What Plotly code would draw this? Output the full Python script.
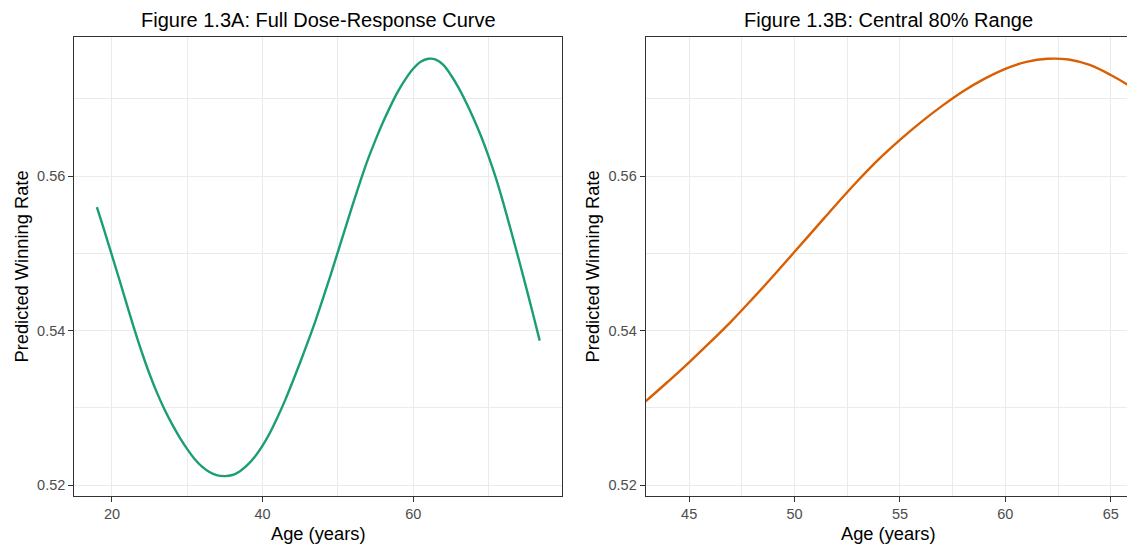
import plotly.graph_objects as go

# Estimated values
age = [18, 19, 20, 21, 22, 23, 24, 25, 26, 27, 28, 29, 30, 31, 32, 33, 34, 35, 36, 37,
       38, 39, 40, 41, 42, 43, 44, 45, 46, 47, 48, 49, 50, 51, 52, 53, 54, 55, 56, 57,
       58, 59, 60, 61, 62, 63, 64, 65, 66, 67, 68, 69, 70, 71, 72, 73, 74, 75, 76, 76.8]
win_rate = [0.5560, 0.5529, 0.54975, 0.54655, 0.5433, 0.5401, 0.5371, 0.53435, 0.5319, 0.52975,
            0.52785, 0.52615, 0.52465, 0.52335, 0.52235, 0.52165, 0.52125, 0.52115, 0.5213, 0.5218,
            0.5226, 0.5237, 0.5251, 0.5268, 0.5288, 0.5310, 0.5334, 0.5359, 0.5385, 0.5412,
            0.5441, 0.5471, 0.5502, 0.5533, 0.5564, 0.5594, 0.5622, 0.5647, 0.5670, 0.5691,
            0.5710, 0.5726, 0.5739, 0.5748, 0.5752, 0.5751, 0.5744, 0.5731, 0.5715, 0.5696,
            0.5675, 0.5652, 0.5626, 0.5597, 0.5564, 0.5529, 0.5493, 0.5456, 0.5418, 0.5387]

titles = ["Figure 1.3A: Full Dose-Response Curve", "Figure 1.3B: Central 80% Range"]
x_title = "Age (years)"
y_title = "Predicted Winning Rate"
colors = ["#1B9E77", "#D95F02"]

W, H = 1127, 546
FONT = "Arial, Liberation Sans, sans-serif"

fig = go.Figure()
fig.add_trace(go.Scatter(x=age, y=win_rate, mode="lines", line=dict(color=colors[0], width=2.4, shape="spline"),
                         xaxis="x", yaxis="y", showlegend=False))
fig.add_trace(go.Scatter(x=age, y=win_rate, mode="lines", line=dict(color=colors[1], width=2.4, shape="spline"),
                         xaxis="x2", yaxis="y2", showlegend=False))

def px_x(p):
    return p / W

def px_y(p):
    return (H - p) / H

ydom = [px_y(495.7), px_y(37.3)]
x1dom = [px_x(74.3), px_x(562.3)]
x2dom = [px_x(645.7), 1.0]

grid = "#EBEBEB"
axis_common = dict(showgrid=True, gridcolor=grid, gridwidth=1.2, zeroline=False,
                   showline=True, linecolor="#333333", linewidth=1.1,
                   ticks="outside", ticklen=5, tickcolor="#333333", tickwidth=1.1,
                   tickfont=dict(family=FONT, size=14.5, color="#4D4D4D"))

fig.update_layout(
    width=W, height=H, margin=dict(l=0, r=0, t=0, b=0),
    paper_bgcolor="white", plot_bgcolor="white",
    xaxis=dict(domain=x1dom, range=[15.0, 79.8], tick0=0, dtick=20, mirror=True, anchor="y",
               minor=dict(dtick=10, showgrid=True, gridcolor=grid, gridwidth=0.7), **axis_common),
    yaxis=dict(domain=ydom, range=[0.51862, 0.57798], tick0=0.52, dtick=0.02, tickformat=".2f",
               mirror=True, anchor="x",
               minor=dict(dtick=0.01, showgrid=True, gridcolor=grid, gridwidth=0.7), **axis_common),
    xaxis2=dict(domain=x2dom, range=[42.94, 65.77], tick0=0, dtick=5, mirror=True, anchor="y2",
                minor=dict(dtick=2.5, showgrid=True, gridcolor=grid, gridwidth=0.7), **axis_common),
    yaxis2=dict(domain=ydom, range=[0.51862, 0.57798], tick0=0.52, dtick=0.02, tickformat=".2f",
                mirror=False, anchor="x2",
                minor=dict(dtick=0.01, showgrid=True, gridcolor=grid, gridwidth=0.7), **axis_common),
)

ann = []
centers = [(74.3 + 562.3) / 2, 888.0]
ytitle_x = [21.0, 592.0]
for i in range(2):
    ann.append(dict(text=titles[i], x=px_x(centers[i]), y=px_y(20), xref="paper", yref="paper",
                    xanchor="center", yanchor="middle", showarrow=False,
                    font=dict(family=FONT, size=20, color="black")))
    ann.append(dict(text=x_title, x=px_x(centers[i]), y=px_y(533), xref="paper", yref="paper",
                    xanchor="center", yanchor="middle", showarrow=False,
                    font=dict(family=FONT, size=18.3, color="black")))
    ann.append(dict(text=y_title, x=px_x(ytitle_x[i]), y=px_y(266.5), xref="paper", yref="paper",
                    xanchor="center", yanchor="middle", showarrow=False, textangle=-90,
                    font=dict(family=FONT, size=18.3, color="black")))
fig.update_layout(annotations=ann)

fig.write_html("out.html")
